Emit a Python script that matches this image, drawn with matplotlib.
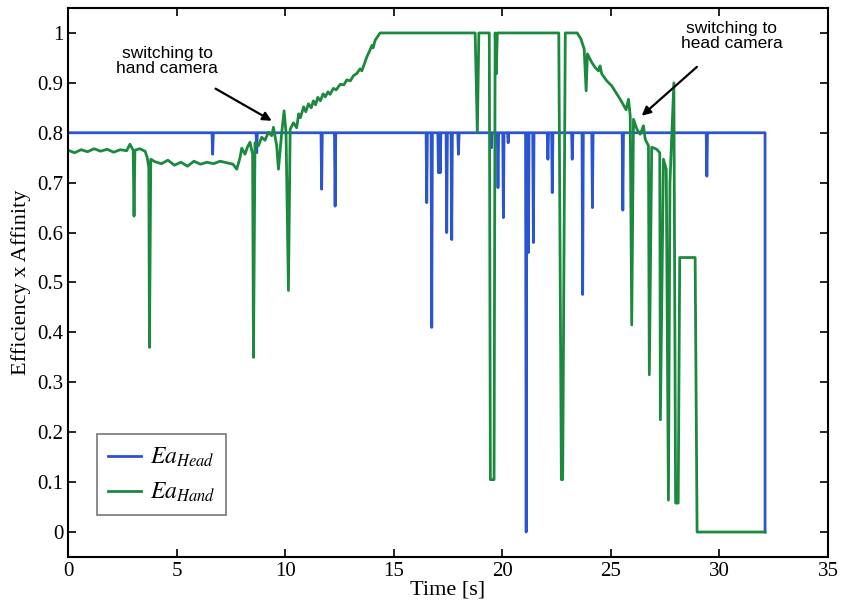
import matplotlib
matplotlib.use("Agg")
import matplotlib.pyplot as plt

# head camera: flat 0.8 with short dropouts, then off at the end
head_base = 0.8
head_spike_t = [6.66, 8.69, 11.68, 12.3, 16.52, 16.75, 17.06, 17.14, 17.44, 17.67, 17.98,
                19.5, 19.8, 20.05, 20.27, 21.1, 21.2, 21.43, 22.1, 22.3, 23.22, 23.7,
                24.15, 25.55, 29.42]
head_spike_v = [0.757, 0.76, 0.687, 0.653, 0.66, 0.41, 0.72, 0.72, 0.60, 0.586, 0.757,
                0.77, 0.69, 0.63, 0.78, 0.0, 0.56, 0.58, 0.747, 0.68, 0.747, 0.476,
                0.65, 0.645, 0.713]
head_end = 32.1

# hand camera
hand_t = [0, 0.3, 0.6, 0.9, 1.2, 1.5, 1.8, 2.1, 2.4, 2.7, 2.85, 3.0, 3.04, 3.08,
          3.3, 3.55, 3.65, 3.72, 3.75, 3.81, 4.0, 4.3, 4.6, 4.9, 5.2, 5.5, 5.8,
          6.1, 6.4, 6.7, 7.0, 7.3, 7.6, 7.77, 7.92, 8.0, 8.15, 8.26, 8.38, 8.5,
          8.54, 8.61, 8.77, 8.92, 9.07, 9.23, 9.38, 9.46, 9.61, 9.69, 9.84, 9.95,
          10.04, 10.15, 10.23, 10.38, 10.53, 10.62, 10.7, 10.85, 10.95, 11.07, 11.2,
          11.3, 11.4, 11.5, 11.62, 11.75, 11.85, 11.97, 12.07, 12.22, 12.35, 12.53,
          12.7, 12.84, 13.0, 13.14, 13.3, 13.45, 13.53, 13.62, 13.76, 13.9, 13.99,
          14.05, 14.14, 14.37, 18.75, 18.85, 18.92, 19.4, 19.45, 19.62, 19.67, 19.72,
          19.77, 22.6, 22.72, 22.78, 22.9, 23.45, 23.62, 23.77, 23.86, 23.92, 24.12,
          24.27, 24.43, 24.5, 24.58, 24.81, 25.04, 25.27, 25.43, 25.55, 25.7, 25.81,
          25.89, 25.96, 26.04, 26.2, 26.35, 26.5, 26.58, 26.73, 26.77, 26.88, 27.11,
          27.25, 27.28, 27.42, 27.55, 27.65, 27.72, 27.9, 27.98, 28.1, 28.17, 28.88,
          28.97, 32.1]
hand_v = [0.765, 0.760, 0.766, 0.762, 0.768, 0.763, 0.767, 0.761, 0.766, 0.764, 0.777,
          0.765, 0.633, 0.765, 0.768, 0.763, 0.75, 0.73, 0.37, 0.747, 0.742, 0.738,
          0.745, 0.735, 0.741, 0.733, 0.743, 0.737, 0.741, 0.738, 0.743, 0.740, 0.737,
          0.727, 0.75, 0.769, 0.757, 0.771, 0.781, 0.757, 0.35, 0.78, 0.774, 0.791,
          0.785, 0.801, 0.794, 0.811, 0.774, 0.727, 0.80, 0.844, 0.80, 0.484, 0.807,
          0.82, 0.81, 0.838, 0.83, 0.852, 0.842, 0.858, 0.85, 0.864, 0.856, 0.871,
          0.864, 0.878, 0.872, 0.882, 0.877, 0.889, 0.886, 0.897, 0.896, 0.906, 0.904,
          0.914, 0.919, 0.928, 0.924, 0.935, 0.952, 0.965, 0.975, 0.97, 0.985, 1.0,
          1.0, 0.80, 1.0, 1.0, 0.105, 0.105, 1.0, 0.918, 1.0, 1.0, 0.105, 0.105,
          1.0, 1.0, 0.988, 0.968, 0.884, 0.958, 0.941, 0.931, 0.924, 0.934, 0.918,
          0.904, 0.894, 0.878, 0.867, 0.858, 0.846, 0.867, 0.834, 0.415, 0.827, 0.807,
          0.797, 0.814, 0.787, 0.774, 0.315, 0.771, 0.767, 0.76, 0.225, 0.747, 0.727,
          0.064, 0.70, 0.90, 0.058, 0.058, 0.55, 0.55, 0.0, 0.0]

yticks = [0, 0.1, 0.2, 0.3, 0.4, 0.5, 0.6, 0.7, 0.8, 0.9, 1]
ytick_labels = ["0", "0.1", "0.2", "0.3", "0.4", "0.5", "0.6", "0.7", "0.8", "0.9", "1"]


def spikes_to_path(base, st, sv, t_end, half=0.03):
    t, v = [0.0], [base]
    for ti, vi in zip(st, sv):
        t += [ti - half, ti, ti + half]
        v += [base, vi, base]
    t += [t_end, t_end]
    v += [base, 0.0]
    return t, v


plt.rcParams["mathtext.fontset"] = "stix"
serif = "Liberation Serif"

fig = plt.figure(figsize=(8.42, 6.10), dpi=100)
ax = fig.add_axes([0.0808, 0.0869, 0.9026, 0.9000])

head_t, head_v = spikes_to_path(head_base, head_spike_t, head_spike_v, head_end)
ax.plot(head_t, head_v, color="#2b55d0", lw=2.0, label=r"$Ea_{Head}$")
ax.plot(hand_t, hand_v, color="#1b8a3e", lw=2.0, label=r"$Ea_{Hand}$")

ax.set_xlim(0, 35)
ax.set_ylim(-0.05, 1.05)
ax.set_xticks(range(0, 36, 5))
ax.set_yticks(yticks)
ax.set_yticklabels(ytick_labels)
ax.tick_params(direction="in", top=True, right=True, length=6, width=1.2,
               labelsize=15)
for lab in ax.get_xticklabels() + ax.get_yticklabels():
    lab.set_family(serif)
for s in ax.spines.values():
    s.set_linewidth(1.5)

ax.set_xlabel("Time [s]", fontsize=16, family=serif, labelpad=0)
ax.set_ylabel("Efficiency x Affinity", fontsize=16, family=serif, labelpad=4)

ann_font = dict(fontsize=12.5, family="Liberation Sans", ha="center", va="center",
                linespacing=1.05)
ax.annotate("switching to\nhand camera", xy=(9.38, 0.824), xytext=(4.56, 0.944),
            arrowprops=dict(arrowstyle="-|>", color="black", lw=1.6,
                            shrinkA=14, shrinkB=0, mutation_scale=13),
            **ann_font)
ax.annotate("switching to\nhead camera", xy=(26.42, 0.834), xytext=(30.57, 0.994),
            arrowprops=dict(arrowstyle="-|>", color="black", lw=1.6,
                            shrinkA=14, shrinkB=0, mutation_scale=13),
            **ann_font)

leg = ax.legend(loc="lower left", bbox_to_anchor=(0.038, 0.077), borderaxespad=0,
                fontsize=17, fancybox=False, edgecolor="#555555", handlelength=1.4,
                handletextpad=0.4, labelspacing=0.45, borderpad=0.45)
leg.get_frame().set_linewidth(1.2)

fig.savefig("out.png", dpi=100)
